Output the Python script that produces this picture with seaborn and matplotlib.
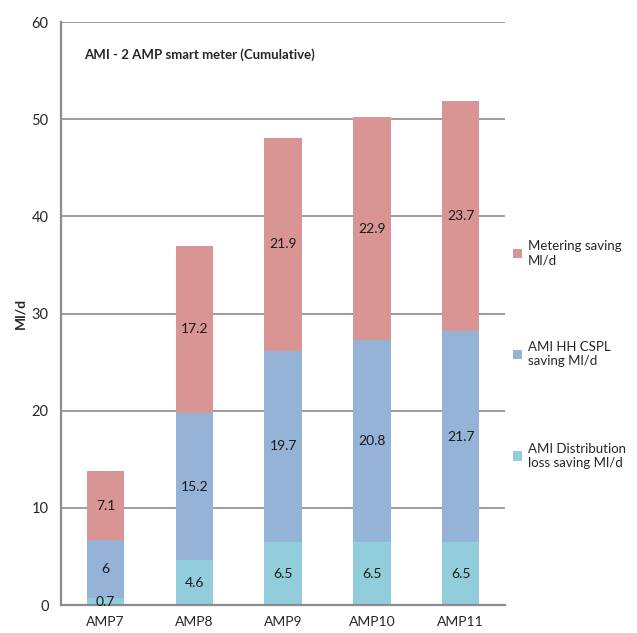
import pandas as pd
import matplotlib.pyplot as plt
import seaborn as sns

# Chart data
periods = ['AMP7', 'AMP8', 'AMP9', 'AMP10', 'AMP11']
dist_loss = [0.7, 4.6, 6.5, 6.5, 6.5]
hh_cspl = [6, 15.2, 19.7, 20.8, 21.7]
metering = [7.1, 17.2, 21.9, 22.9, 23.7]

series_names = ['AMI Distribution\nloss saving Ml/d', 'AMI HH CSPL\nsaving Ml/d', 'Metering saving\nMl/d']
colors = ['#92CDDC', '#95B3D7', '#D99594']

sns.set_style('white')
plt.rcParams['font.family'] = ['Lato', 'DejaVu Sans']

fig = plt.figure(figsize=(6.37, 6.33), dpi=100)
ax = fig.add_axes([0.096, 0.044, 0.697, 0.921])

grid_col = '#8C8C8C'
ax.set_axisbelow(True)
ax.yaxis.grid(True, color=grid_col, linewidth=1.2)

bottom = [0.0] * len(periods)
for name, vals, col in zip(series_names, [dist_loss, hh_cspl, metering], colors):
    df = pd.DataFrame({'Period': periods, 'Value': vals})
    sns.barplot(data=df, x='Period', y='Value', order=periods, color=col,
                width=0.42, bottom=bottom, label=name, ax=ax, saturation=1,
                linewidth=0)
    bottom = [b + v for b, v in zip(bottom, vals)]

# value labels inside each segment
for cont, vals in zip(ax.containers, [dist_loss, hh_cspl, metering]):
    ax.bar_label(cont, labels=[f'{v:g}' for v in vals], label_type='center',
                 fontsize=10, color='#1a1a1a')

ax.set_ylim(0, 60)
ax.set_xlim(-0.5, 4.5)
ax.set_yticks(range(0, 61, 10))
ax.set_xlabel('')
ax.set_ylabel('Ml/d', fontweight='bold', fontsize=10, labelpad=4)

# Excel style tick marks between the categories
ax.set_xticks([i - 0.5 for i in range(len(periods) + 1)], minor=True)
ax.tick_params(axis='x', which='major', length=0, labelsize=10, pad=8)
ax.tick_params(axis='x', which='minor', length=5, width=1.2, color=grid_col, direction='out')
ax.tick_params(axis='y', length=5, width=1.2, color=grid_col, direction='out', labelsize=10.5, pad=4)

for side in ['top', 'right']:
    ax.spines[side].set_visible(False)
for side in ['left', 'bottom']:
    ax.spines[side].set_color(grid_col)
    ax.spines[side].set_linewidth(1.6)

ax.text(0.052, 0.945, 'AMI - 2 AMP smart meter (Cumulative)', transform=ax.transAxes,
        fontweight='bold', fontsize=9.5, va='center', ha='left')

handles, labels = ax.get_legend_handles_labels()
ax.legend(handles[::-1], labels[::-1], loc='center left', bbox_to_anchor=(1.0, 0.43),
          frameon=False, fontsize=9.5, labelspacing=5.7, handlelength=0.7,
          handleheight=0.7, handletextpad=0.4, borderaxespad=0.2)

fig.savefig('out.png', dpi=100)
